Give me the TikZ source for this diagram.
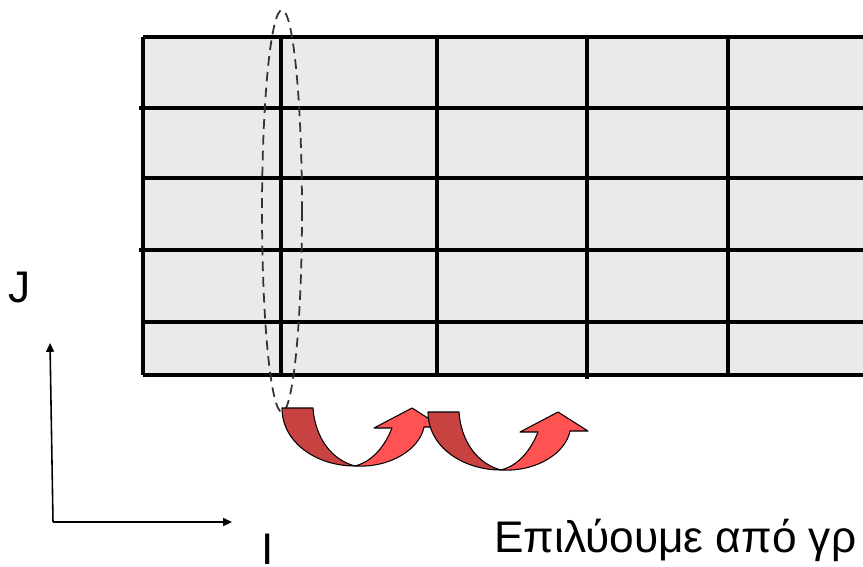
\documentclass[tikz,border=0pt]{standalone}
\usepackage{fontspec}
\setmainfont{Liberation Sans}
\usepackage{tikz}
\usetikzlibrary{arrows.meta}
\definecolor{cellgray}{RGB}{234,234,234}
\definecolor{sweepdark}{RGB}{200,66,66}
\definecolor{sweeplight}{RGB}{255,82,82}

\begin{document}
\begin{tikzpicture}[
  x=0.02cm, y=-0.02cm,
  gridline/.style={line width=1.9pt},
  colsel/.style={draw=black!80,line width=1pt,dash pattern=on 5.5pt off 3.5pt},
  axis/.style={-{Triangle[length=5pt,width=4.5pt]},line width=0.9pt},
  lbl/.style={font=\fontsize{25.2}{29}\selectfont,inner sep=0pt},
  sweep/.style={draw=black,line width=0.6pt,line join=round},
]
  \useasboundingbox (0,0) rectangle (863,566);
  \clip (0,0) rectangle (863,566);

  % grid of cells
  \fill[cellgray] (143,37) rectangle (880,375);
  \draw[gridline] (143,37) -- (880,37) (143,375) -- (880,375);
  \foreach \yy/\xs in {108/139,178/143,250/139,322/143}
    \draw[gridline] (\xs,\yy) -- (880,\yy);
  \foreach \xx in {143,437,728}
    \draw[gridline] (\xx,37) -- (\xx,375);
  \draw[gridline] (587,37) -- (587,379);
  \draw[line width=2.3pt] (281,37) -- (281,375);

  % selected column
  \draw[colsel] (282,211) ellipse [x radius=0.4cm, y radius=4.02cm];

  % sweep arrows
  \foreach \sx/\sy in {282/408,428/412}{
    \begin{scope}[shift={(\sx,\sy)}]
      \filldraw[sweep,fill=sweepdark] (0,0) -- (31,0)
        .. controls (33,30) and (50,52) .. (73,58)
        .. controls (35,58) and (0,35) .. (0,0) -- cycle;
      \filldraw[sweep,fill=sweeplight] (73,58)
        .. controls (110,60) and (138,40) .. (142,19)
        -- (160,19) -- (130,0) -- (92,20) -- (110,20)
        .. controls (100,45) and (85,55) .. (73,58) -- cycle;
    \end{scope}
  }

  % axes
  \coordinate (orig) at (53,522);
  \coordinate (iend) at (232,522);
  \coordinate (jend) at (50,343);
  \draw[axis] (orig) -- (iend);
  \draw[axis] (orig) -- (jend);
  \node[lbl,anchor=base west] (jlab) at (8,302) {J};
  \node[lbl,anchor=base west] (ilab) at (261,564) {I};
  \node[lbl,anchor=base west] (note) at (494,552) {Επιλύουμε από γρ};
\end{tikzpicture}
\end{document}
